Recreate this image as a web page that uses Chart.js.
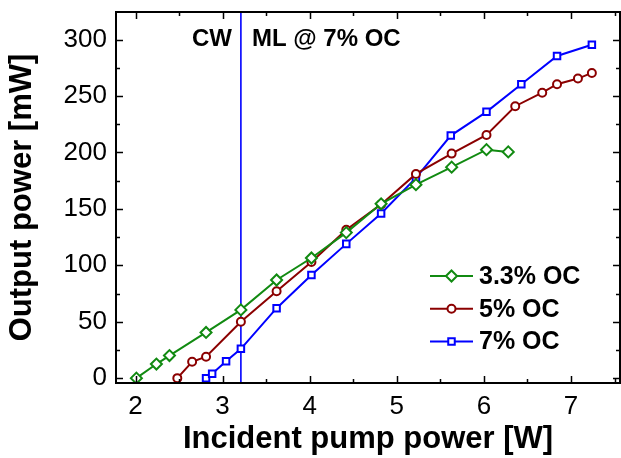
<!DOCTYPE html>
<html><head><meta charset="utf-8">
<script src="https://cdn.jsdelivr.net/npm/chart.js@4.4.1/dist/chart.umd.min.js"></script>
<style>html,body{margin:0;padding:0;background:#fff;}#wrap{width:621px;height:458px;position:relative;}</style>
</head><body><div id="wrap"><canvas id="c"></canvas></div>
<script>
// ---- data ----
const seriesLabels = ['3.3% OC', '5% OC', '7% OC'];
const pump33 = [2.01, 2.24, 2.39, 2.81, 3.21, 3.62, 4.02, 4.42, 4.82, 5.22, 5.63, 6.03, 6.28];
const power33 = [0, 12.5, 20, 40.5, 60.5, 87, 106.5, 129, 154.5, 171.5, 187, 202.5, 200.5];
const pump5 = [2.48, 2.65, 2.81, 3.21, 3.62, 4.02, 4.42, 4.82, 5.22, 5.63, 6.03, 6.36, 6.67, 6.84, 7.08, 7.24];
const power5 = [0, 14.5, 19, 50, 77, 103, 131.5, 154, 181, 199, 215.5, 241, 253, 260.5, 265.5, 270.5];
const pump7 = [2.81, 2.88, 3.04, 3.21, 3.62, 4.02, 4.42, 4.82, 5.22, 5.62, 6.03, 6.43, 6.84, 7.24];
const power7 = [0, 4, 15, 26, 62, 91.5, 119, 146, 177.5, 215, 236, 260.5, 285.5, 295.5];
const xTicks = [2, 3, 4, 5, 6, 7];
const yTicks = [0, 50, 100, 150, 200, 250, 300];
const xMinorTicks = [2.5, 3.5, 4.5, 5.5, 6.5, 7.5];
const yMinorTicks = [25, 75, 125, 175, 225, 275];
const regimeBoundary = 3.21;
const leftNote = 'CW';
const rightNote = 'ML @ 7% OC';
const xTitle = 'Incident pump power [W]';
const yTitle = 'Output power [mW]';

const FONT = "Arial, 'Liberation Sans', sans-serif";
const colors = ['#118a11', '#8b0000', '#0000ff'];
const styles = ['rectRot', 'circle', 'rect'];
const radii = [5.5, 4, 4.6];

function pts(xs, ys) { return xs.map((x, i) => ({ x: x, y: ys[i] })); }
const series = [pts(pump33, power33), pts(pump5, power5), pts(pump7, power7)];

const datasets = series.map((d, i) => ({
  label: seriesLabels[i],
  data: d,
  borderColor: colors[i],
  backgroundColor: '#ffffff',
  borderWidth: 2,
  pointStyle: styles[i],
  pointRadius: radii[i],
  pointBorderWidth: 2,
  pointBackgroundColor: '#ffffff',
  pointBorderColor: colors[i],
  tension: 0
}));

const decor = {
  id: 'decor',
  beforeDatasetsDraw(chart) {
    const { ctx, chartArea: a, scales: { x } } = chart;
    const vx = x.getPixelForValue(regimeBoundary);
    ctx.save();
    ctx.strokeStyle = '#0000ff';
    ctx.lineWidth = 1.6;
    ctx.beginPath(); ctx.moveTo(vx, a.top); ctx.lineTo(vx, a.bottom); ctx.stroke();
    ctx.restore();
  },
  afterDatasetsDraw(chart) {
    const { ctx, chartArea: a, scales: { x, y } } = chart;
    ctx.save();
    ctx.strokeStyle = '#000';
    ctx.lineWidth = 1.5;
    const majorLen = 7, minorLen = 4;
    ctx.beginPath();
    xTicks.forEach(v => { const px = Math.round(x.getPixelForValue(v)) + 0.5;
      ctx.moveTo(px, a.bottom); ctx.lineTo(px, a.bottom - majorLen);
      ctx.moveTo(px, a.top); ctx.lineTo(px, a.top + majorLen); });
    xMinorTicks.forEach(v => { const px = Math.round(x.getPixelForValue(v)) + 0.5;
      ctx.moveTo(px, a.bottom); ctx.lineTo(px, a.bottom - minorLen);
      ctx.moveTo(px, a.top); ctx.lineTo(px, a.top + minorLen); });
    yTicks.forEach(v => { const py = Math.round(y.getPixelForValue(v)) + 0.5;
      ctx.moveTo(a.left, py); ctx.lineTo(a.left + majorLen, py);
      ctx.moveTo(a.right, py); ctx.lineTo(a.right - majorLen, py); });
    yMinorTicks.forEach(v => { const py = Math.round(y.getPixelForValue(v)) + 0.5;
      ctx.moveTo(a.left, py); ctx.lineTo(a.left + minorLen, py);
      ctx.moveTo(a.right, py); ctx.lineTo(a.right - minorLen, py); });
    ctx.stroke();
    ctx.lineWidth = 2;
    ctx.strokeRect(a.left, a.top, a.right - a.left, a.bottom - a.top);
    ctx.restore();
  },
  afterDraw(chart) {
    const { ctx, chartArea: a, scales: { x } } = chart;
    const vx = x.getPixelForValue(regimeBoundary);
    ctx.save();
    ctx.fillStyle = '#000';
    ctx.font = 'bold 24px ' + FONT;
    ctx.textBaseline = 'alphabetic';
    ctx.textAlign = 'right';
    ctx.fillText(leftNote, vx - 9, a.top + 34);
    ctx.textAlign = 'left';
    ctx.fillText(rightNote, vx + 11, a.top + 34);

    // legend
    const lx0 = a.left + 314, lx1 = a.left + 357, tx = a.left + 363;
    const ly0 = a.top + 264, dy = 32.7;
    chart.data.datasets.forEach((ds, i) => {
      const yy = ly0 + i * dy;
      ctx.strokeStyle = ds.borderColor;
      ctx.lineWidth = 2;
      ctx.beginPath(); ctx.moveTo(lx0, yy); ctx.lineTo(lx1, yy); ctx.stroke();
      ctx.fillStyle = '#ffffff';
      ctx.strokeStyle = ds.borderColor;
      ctx.lineWidth = 2;
      Chart.helpers.drawPoint(ctx, { pointStyle: ds.pointStyle, radius: ds.pointRadius, rotation: 0, borderWidth: 2 }, (lx0 + lx1) / 2, yy);
      ctx.fillStyle = '#000';
      ctx.font = 'bold 25px ' + FONT;
      ctx.textAlign = 'left';
      ctx.textBaseline = 'middle';
      ctx.fillText(ds.label, tx, yy + 1);
    });
    ctx.restore();
  }
};

new Chart(document.getElementById('c'), {
  type: 'line',
  data: { datasets: datasets },
  options: {
    responsive: true,
    maintainAspectRatio: false,
    animation: false,
    layout: { autoPadding: false, padding: { left: 0, top: 12, right: 1, bottom: 0 } },
    plugins: { legend: { display: false }, tooltip: { enabled: false } },
    scales: {
      x: {
        type: 'linear', min: 1.776, max: 7.563,
        afterBuildTicks: s => { s.ticks = xTicks.map(v => ({ value: v })); },
        afterFit: s => { s.height = 75; s.paddingLeft = 0; s.paddingRight = 0; },
        grid: { display: false, drawTicks: false },
        border: { display: false },
        ticks: { color: '#000', font: { family: FONT, size: 26 }, padding: 8, maxRotation: 0, autoSkip: false },
        title: { display: true, text: xTitle, color: '#000', font: { family: FONT, size: 31, weight: 'bold' }, padding: { top: 0, bottom: 0 } }
      },
      y: {
        type: 'linear', min: -4.3, max: 324.5,
        afterBuildTicks: s => { s.ticks = yTicks.map(v => ({ value: v })); },
        afterFit: s => { s.width = 116; s.paddingTop = 0; s.paddingBottom = 0; },
        grid: { display: false, drawTicks: false },
        border: { display: false },
        ticks: { color: '#000', font: { family: FONT, size: 26, lineHeight: 0.6 }, padding: 9, autoSkip: false },
        title: { display: true, text: yTitle, color: '#000', font: { family: FONT, size: 31, weight: 'bold' }, padding: { top: 4, bottom: 0 } }
      }
    }
  },
  plugins: [decor]
});
</script>
</body></html>
